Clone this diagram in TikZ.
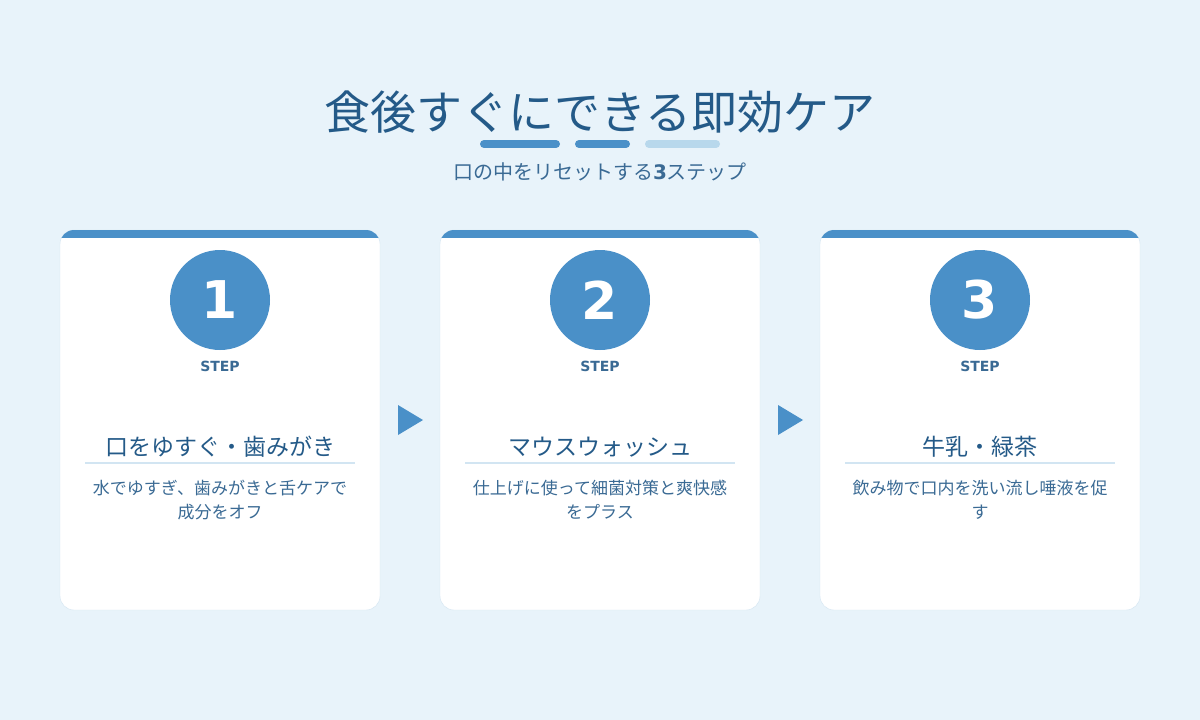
\documentclass[tikz,border=0pt]{standalone}
\usepackage{fontspec}
\setmainfont{Noto Sans CJK JP}
\newfontfamily\numfont{DejaVu Sans}
\definecolor{bgblue}{HTML}{E8F3FA}
\definecolor{mainblue}{HTML}{4A90C8}
\definecolor{darkblue}{HTML}{245A88}
\definecolor{textblue}{HTML}{3A6A94}
\definecolor{paleblue}{HTML}{B8D8EC}
\definecolor{lineblue}{HTML}{D2E5F2}
\begin{document}
\begin{tikzpicture}[x=1pt,y=-1pt,
    card/.style={draw=lineblue,fill=white,rounded corners=14pt},
    stepcircle/.style={circle,fill=mainblue,minimum size=100pt,inner sep=0pt,
      text=white,font=\numfont\bfseries\fontsize{52}{52}\selectfont},
    steplabel/.style={text=textblue,font=\numfont\bfseries\fontsize{14}{14}\selectfont},
    cardtitle/.style={text=darkblue,font=\fontsize{23}{23}\selectfont},
    carddesc/.style={text=textblue,align=center,font=\fontsize{17}{24}\selectfont},
    bar/.style={line width=8pt,line cap=round}
]
\useasboundingbox[fill=bgblue] (0,0) rectangle (1200,720);

% Titel
\node[text=darkblue,font=\fontsize{46}{46}\selectfont] (title) at (600,112) {食後すぐにできる即効ケア};
\draw[bar,mainblue] (484,144) -- (556,144);
\draw[bar,mainblue] (579,144) -- (626,144);
\draw[bar,paleblue] (649,144) -- (716,144);
\node[text=textblue,font=\fontsize{20}{20}\selectfont] (subtitle) at (600,172) {口の中をリセットする\textbf{\numfont 3}ステップ};

% Karten
\foreach \i/\x/\head/\desc in {
  1/220/口をゆすぐ・歯みがき/{水でゆすぎ、歯みがきと舌ケアで\\成分をオフ},
  2/600/マウスウォッシュ/{仕上げに使って細菌対策と爽快感\\をプラス},
  3/980/牛乳・緑茶/{飲み物で口内を洗い流し唾液を促\\す}} {
  \draw[card] (\x-160,230) rectangle (\x+160,610);
  \begin{scope}
    \clip[rounded corners=14pt] (\x-160,230) rectangle (\x+160,610);
    \fill[mainblue] (\x-161,229) rectangle (\x+161,238);
  \end{scope}
  \node[stepcircle] (num\i) at (\x,300) {\i};
  \node[steplabel] (step\i) at (\x,366) {STEP};
  \node[cardtitle] (head\i) at (\x,447) {\head};
  \draw[lineblue,line width=1.5pt] (\x-135,463) -- (\x+135,463);
  \node[carddesc,anchor=north] (desc\i) at (\x,477) {\desc};
}

% Pfeile
\foreach \x in {398,778}
  \fill[mainblue] (\x,405) -- (\x+25,420) -- (\x,435) -- cycle;
\end{tikzpicture}
\end{document}
